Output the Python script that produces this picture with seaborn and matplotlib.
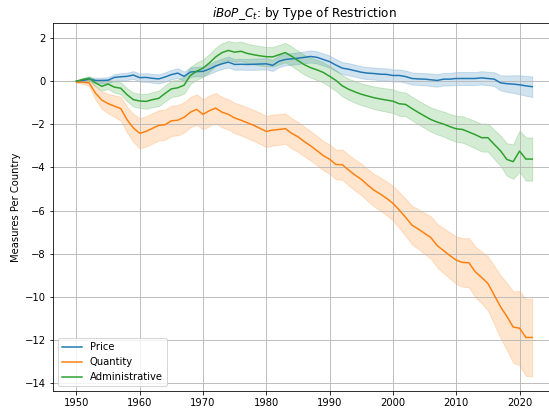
import numpy as np
import pandas as pd
import matplotlib
matplotlib.use("Agg")
import matplotlib.pyplot as plt
import seaborn as sns

years = list(range(1950, 2023))

price = [0.00, 0.02, 0.10, 0.03, 0.03, 0.04, 0.17, 0.20, 0.22, 0.28,
         0.16, 0.17, 0.13, 0.10, 0.19, 0.30, 0.37, 0.22, 0.42, 0.44,
         0.45, 0.56, 0.70, 0.80, 0.88, 0.77, 0.78, 0.77, 0.78, 0.79,
         0.80, 0.73, 0.92, 1.00, 1.03, 1.06, 1.10, 1.14, 1.10, 1.00,
         0.90, 0.74, 0.60, 0.55, 0.48, 0.41, 0.37, 0.35, 0.32, 0.31,
         0.26, 0.26, 0.21, 0.12, 0.10, 0.09, 0.06, 0.03, 0.09, 0.09,
         0.12, 0.12, 0.12, 0.12, 0.15, 0.12, 0.09, -0.08, -0.12, -0.14,
         -0.17, -0.22, -0.26]

quantity = [-0.05, -0.05, -0.08, -0.55, -0.88, -1.04, -1.16, -1.27, -1.79, -2.17,
            -2.42, -2.33, -2.19, -2.05, -2.02, -1.84, -1.81, -1.68, -1.44, -1.31,
            -1.54, -1.37, -1.25, -1.44, -1.54, -1.71, -1.81, -1.93, -2.05, -2.19,
            -2.33, -2.27, -2.24, -2.20, -2.42, -2.58, -2.80, -3.00, -3.22, -3.45,
            -3.62, -3.86, -3.87, -4.12, -4.35, -4.55, -4.81, -5.05, -5.23, -5.43,
            -5.66, -5.97, -6.31, -6.67, -6.85, -7.05, -7.25, -7.62, -7.85, -8.08,
            -8.29, -8.40, -8.41, -8.83, -9.09, -9.37, -9.91, -10.45, -10.90, -11.39,
            -11.44, -11.87, -11.87]

administrative = [0.00, 0.08, 0.13, -0.08, -0.24, -0.14, -0.28, -0.33, -0.63, -0.86,
                  -0.92, -0.94, -0.86, -0.80, -0.57, -0.36, -0.31, -0.19, 0.26, 0.46,
                  0.60, 0.84, 1.12, 1.32, 1.42, 1.34, 1.38, 1.28, 1.22, 1.17,
                  1.13, 1.12, 1.22, 1.32, 1.15, 0.95, 0.76, 0.62, 0.52, 0.40,
                  0.22, 0.03, -0.22, -0.38, -0.50, -0.61, -0.69, -0.77, -0.83, -0.88,
                  -0.93, -1.05, -1.08, -1.27, -1.45, -1.62, -1.78, -1.90, -1.99, -2.11,
                  -2.21, -2.24, -2.36, -2.48, -2.62, -2.62, -2.93, -3.23, -3.63, -3.73,
                  -3.24, -3.61, -3.61]

# Half-widths of the confidence bands around each mean
price_hw = [0.02, 0.06, 0.09, 0.12, 0.13, 0.14, 0.15, 0.16, 0.17, 0.18,
            0.19, 0.20, 0.20, 0.21, 0.21, 0.22, 0.22, 0.22, 0.22, 0.22,
            0.23, 0.23, 0.24, 0.24, 0.25, 0.25, 0.25, 0.25, 0.26, 0.26,
            0.26, 0.26, 0.27, 0.27, 0.27, 0.27, 0.27, 0.28, 0.28, 0.28,
            0.28, 0.28, 0.28, 0.28, 0.28, 0.28, 0.28, 0.28, 0.28, 0.28,
            0.28, 0.28, 0.28, 0.28, 0.28, 0.28, 0.29, 0.29, 0.29, 0.29,
            0.30, 0.30, 0.30, 0.30, 0.31, 0.31, 0.32, 0.35, 0.38, 0.41,
            0.44, 0.46, 0.48]

quantity_hw = [0.03, 0.08, 0.15, 0.30, 0.40, 0.45, 0.50, 0.55, 0.60, 0.65,
               0.70, 0.70, 0.70, 0.70, 0.70, 0.70, 0.70, 0.70, 0.70, 0.70,
               0.70, 0.70, 0.70, 0.70, 0.70, 0.70, 0.71, 0.71, 0.72, 0.72,
               0.72, 0.72, 0.71, 0.70, 0.70, 0.69, 0.69, 0.68, 0.68, 0.68,
               0.68, 0.69, 0.70, 0.71, 0.72, 0.73, 0.74, 0.75, 0.77, 0.78,
               0.80, 0.83, 0.86, 0.89, 0.92, 0.95, 0.98, 1.01, 1.04, 1.07,
               1.10, 1.12, 1.14, 1.17, 1.20, 1.25, 1.35, 1.45, 1.55, 1.65,
               1.72, 1.78, 1.80]

administrative_hw = [0.02, 0.06, 0.10, 0.15, 0.20, 0.22, 0.25, 0.28, 0.30, 0.32,
                     0.33, 0.34, 0.35, 0.36, 0.37, 0.38, 0.38, 0.39, 0.39, 0.40,
                     0.40, 0.41, 0.42, 0.43, 0.44, 0.45, 0.45, 0.45, 0.45, 0.45,
                     0.45, 0.45, 0.45, 0.45, 0.45, 0.45, 0.46, 0.46, 0.47, 0.47,
                     0.48, 0.48, 0.49, 0.49, 0.50, 0.50, 0.51, 0.52, 0.53, 0.54,
                     0.55, 0.55, 0.55, 0.55, 0.55, 0.55, 0.56, 0.57, 0.58, 0.59,
                     0.60, 0.61, 0.62, 0.63, 0.64, 0.65, 0.67, 0.70, 0.75, 0.80,
                     0.95, 1.00, 1.00]

series_names = ["Price", "Quantity", "Administrative"]
palette = ["#1f77b4", "#ff7f0e", "#2ca02c"]

# Long table: for each year, the lower band edge, the mean and the upper edge
rows = []
for name, mean, hw in zip(series_names,
                          [price, quantity, administrative],
                          [price_hw, quantity_hw, administrative_hw]):
    for yr, m, h in zip(years, mean, hw):
        rows += [(yr, m - h, name), (yr, m, name), (yr, m + h, name)]
df = pd.DataFrame(rows, columns=["year", "value", "type"])

plt.rcParams["font.family"] = ["DejaVu Sans"]
fig = plt.figure(figsize=(549 / 72, 412 / 72), dpi=72)
ax = fig.add_axes([53 / 549, 21 / 412, 502 / 549, 368 / 412])

sns.lineplot(data=df, x="year", y="value", hue="type",
             hue_order=series_names, palette=palette,
             estimator="median", errorbar=lambda v: (v.min(), v.max()),
             linewidth=1.5, ax=ax)

ax.set_xlim(1946.3, 2025.6)
ax.set_ylim(-14.35, 2.69)
ax.set_xticks([1950, 1960, 1970, 1980, 1990, 2000, 2010, 2020])
ax.set_yticks(list(range(-14, 3, 2)))
ax.grid(True, color="#b8b8b8", linewidth=0.9)
ax.set_xlabel("")
ax.set_ylabel("Measures Per Country")
ax.set_title(r"$iBoP\_C_t$: by Type of Restriction")
sns.move_legend(ax, "lower left", title=None)

fig.savefig("out.png", dpi=72)
